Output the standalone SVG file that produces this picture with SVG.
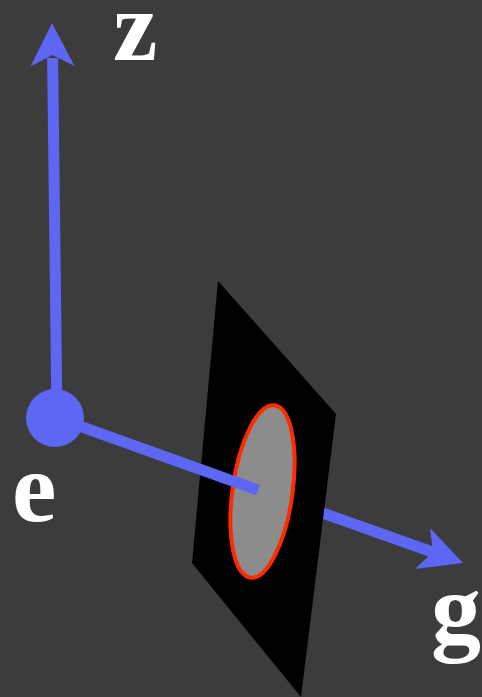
<svg xmlns="http://www.w3.org/2000/svg" width="482" height="697" viewBox="0 0 482 697">
<style>
.axis{stroke:#5e66f4;stroke-width:11;fill:none}
.head{fill:#5e66f4}
.lbl{font-family:"Liberation Serif","Times New Roman",serif;font-weight:bold;font-size:100px;fill:#ffffff}
</style>
<rect width="482" height="697" fill="#3c3c3c"/>
<g id="connectors">
<line class="axis" x1="258" y1="490" x2="438" y2="554"/>
<polygon class="head" points="463,563 430,528 433,552 415,569"/>
</g>
<g id="plane">
<polygon points="218,281 336,414 301,697 192,563" fill="#000000"/>
</g>
<g id="disk">
<ellipse cx="262.5" cy="491.5" rx="30" ry="87" transform="rotate(8 262.5 491.5)" fill="#8c8c8c" stroke="#ff2a00" stroke-width="4"/>
</g>
<g id="connectors-front">
<line class="axis" x1="57" y1="418" x2="258" y2="490"/>
<line class="axis" x1="57" y1="418" x2="52.6" y2="58"/>
<polygon class="head" points="52,23 74.5,66 52.4,55 30.5,66.5"/>
</g>
<g id="e">
<circle cx="55" cy="418" r="29" fill="#5e66f4"/>
<text class="lbl" x="12" y="521">e</text>
</g>
<g id="z">
<text class="lbl" x="113" y="60">z</text>
</g>
<g id="g">
<text class="lbl" x="431" y="643">g</text>
</g>
</svg>
